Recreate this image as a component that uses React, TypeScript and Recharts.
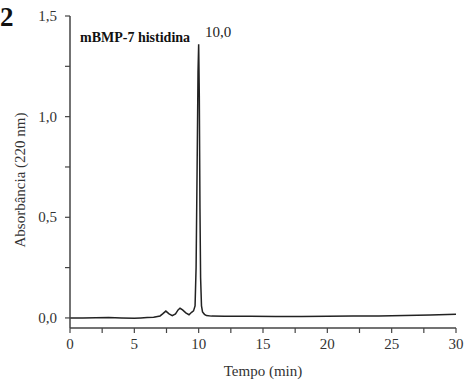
import React from "react";
import { LineChart, Line, XAxis, YAxis } from "recharts";

const tempo = [0, 1, 2, 3, 4, 5, 5.5, 6, 6.5, 7, 7.2, 7.45, 7.7, 7.95, 8.2, 8.4, 8.55, 8.75, 9.0, 9.25, 9.45, 9.6, 9.72, 9.8, 9.88, 9.95, 10.0, 10.05, 10.1, 10.15, 10.22, 10.3, 10.45, 10.6, 11, 12, 14, 16, 18, 20, 22, 24, 26, 28, 30];
const absorbancia = [0.0, 0.0, 0.001, 0.002, 0.0, -0.002, 0.0, 0.002, 0.004, 0.01, 0.02, 0.034, 0.02, 0.011, 0.02, 0.04, 0.048, 0.04, 0.025, 0.016, 0.028, 0.035, 0.06, 0.25, 0.75, 1.22, 1.36, 1.1, 0.55, 0.2, 0.06, 0.03, 0.018, 0.012, 0.009, 0.008, 0.008, 0.007, 0.007, 0.008, 0.009, 0.01, 0.012, 0.015, 0.018];
const xTicks = [0, 2.5, 5, 7.5, 10, 12.5, 15, 17.5, 20, 22.5, 25, 27.5, 30];
const yTicks = [0, 0.25, 0.5, 0.75, 1.0, 1.25, 1.5];

const data = tempo.map((t, i) => ({ t, a: absorbancia[i] }));

const FONT = "'Liberation Serif', 'DejaVu Serif', serif";
const AX = "#444";

const fmt = (v: number) => v.toFixed(1).replace(".", ",");

const XTick = (props: any) => {
  const { x, y, payload } = props;
  const v = payload.value as number;
  const major = v % 5 === 0;
  return (
    <g>
      <line x1={x} x2={x} y1={y - 8} y2={y - 3} stroke={AX} strokeWidth={1.2} />
      {major && (
        <text x={x} y={y + 13} textAnchor="middle" fontFamily={FONT} fontSize={15} fill="#333">
          {v}
        </text>
      )}
    </g>
  );
};

const YTick = (props: any) => {
  const { x, y, payload } = props;
  const v = payload.value as number;
  const major = Math.abs(v * 2 - Math.round(v * 2)) < 1e-6;
  return (
    <g>
      <line x1={x + 3} x2={x + 8} y1={y} y2={y} stroke={AX} strokeWidth={1.2} />
      {major && (
        <text x={x - 5} y={y + 5} textAnchor="end" fontFamily={FONT} fontSize={15} fill="#333">
          {fmt(v)}
        </text>
      )}
    </g>
  );
};

const YLabel = () => (
  <text x={25} y={180} transform="rotate(-90 25 180)" textAnchor="middle" fontFamily={FONT} fontSize={15} fill="#333">
    Absorbância (220 nm)
  </text>
);

export default function App() {
  return (
    <div style={{ position: "absolute", left: 0, top: 0, width: 473, height: 388, background: "#fff", overflow: "hidden" }}>
      <LineChart width={473} height={388} data={data} margin={{ top: 16, right: 17, bottom: 0, left: 10 }}>
        <XAxis
          xAxisId="b"
          dataKey="t"
          type="number"
          domain={[0, 30]}
          ticks={xTicks}
          interval={0}
          tick={<XTick />}
          tickLine={false}
          axisLine={{ stroke: AX, strokeWidth: 1.5 }}
          height={60}
          label={{ value: "Tempo (min)", position: "insideBottom", offset: 12, style: { fontFamily: FONT, fontSize: 15, fill: "#333" } }}
        />
        <XAxis xAxisId="t" orientation="top" dataKey="t" type="number" domain={[0, 30]} tick={false} tickLine={false} axisLine={{ stroke: AX, strokeWidth: 1.5 }} height={0} />
        <YAxis
          yAxisId="l"
          type="number"
          domain={[-0.05, 1.5]}
          ticks={yTicks}
          interval={0}
          tick={<YTick />}
          tickLine={false}
          axisLine={{ stroke: AX, strokeWidth: 1.5 }}
          width={60}
          label={<YLabel />}
        />
        <YAxis yAxisId="r" orientation="right" type="number" domain={[-0.05, 1.5]} tick={false} tickLine={false} axisLine={{ stroke: AX, strokeWidth: 1.5 }} width={0} />
        <Line xAxisId="b" yAxisId="l" dataKey="a" type="linear" stroke="#222" strokeWidth={1.5} dot={false} isAnimationActive={false} />
      </LineChart>
      <div style={{ position: "absolute", left: 0, top: 2, fontFamily: FONT, fontWeight: "bold", fontSize: 27, lineHeight: "30px", color: "#111" }}>2</div>
      <div style={{ position: "absolute", left: 80, top: 30, fontFamily: FONT, fontWeight: "bold", fontSize: 14, lineHeight: "16px", color: "#111" }}>mBMP-7 histidina</div>
      <div style={{ position: "absolute", left: 205, top: 24, fontFamily: FONT, fontSize: 15, lineHeight: "17px", color: "#222" }}>10,0</div>
    </div>
  );
}
